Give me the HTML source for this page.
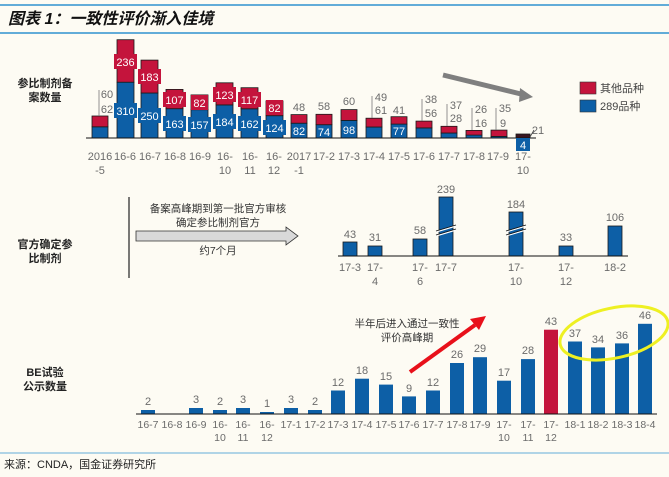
<!DOCTYPE html>
<html><head><meta charset="utf-8"><style>
html,body{margin:0;padding:0;background:#fdfbf3;}
svg{display:block;font-family:"Liberation Sans","Noto Sans CJK SC",sans-serif;}
.g{fill:#6b6b6b;font-size:11px;text-anchor:middle;}
.w{fill:#fff;font-size:11px;text-anchor:middle;}
.b{fill:#0d5fa6;stroke:#1a1a1a;stroke-width:0.8;}
.r{fill:#c4143c;stroke:#1a1a1a;stroke-width:0.8;}
.bb{fill:#0d5fa6;}
.lb{font-size:11px;font-weight:bold;fill:#222;text-anchor:middle;}
.t{font-size:10.5px;fill:#333;text-anchor:middle;}
</style></head><body>
<svg width="669" height="477" viewBox="0 0 669 477">
<rect width="669" height="477" fill="#fdfbf3"/>
<line x1="0" y1="5" x2="669" y2="5" stroke="#62acd8" stroke-width="2"/>
<line x1="0" y1="33" x2="669" y2="33" stroke="#62acd8" stroke-width="2"/>
<text x="8" y="24" style="font-size:16px;font-weight:bold;font-style:italic;fill:#111">图表 1：一致性评价渐入佳境</text>

<!-- top chart -->
<text x="45" y="87" class="lb">参比制剂备</text>
<text x="45" y="101" class="lb">案数量</text>
<g>
<rect class="b" x="92" y="126.8" width="16" height="11.2"/><rect class="r" x="92" y="116" width="16" height="10.8"/>
<rect class="b" x="117" y="82.2" width="17" height="55.8"/><rect class="r" x="117" y="39.7" width="17" height="42.5"/>
<rect class="b" x="141" y="93" width="17" height="45"/><rect class="r" x="141" y="60.1" width="17" height="32.9"/>
<rect class="b" x="166" y="108.7" width="17" height="29.3"/><rect class="r" x="166" y="89.4" width="17" height="19.3"/>
<rect class="b" x="191" y="109.7" width="17" height="28.3"/><rect class="r" x="191" y="94.9" width="17" height="14.8"/>
<rect class="b" x="216" y="104.9" width="17" height="33.1"/><rect class="r" x="216" y="82.8" width="17" height="22.1"/>
<rect class="b" x="241" y="108.8" width="17" height="29.2"/><rect class="r" x="241" y="87.7" width="17" height="21.1"/>
<rect class="b" x="266" y="115.7" width="17" height="22.3"/><rect class="r" x="266" y="100.9" width="17" height="14.8"/>
<rect class="b" x="291" y="123.2" width="16" height="14.8"/><rect class="r" x="291" y="114.6" width="16" height="8.6"/>
<rect class="b" x="316" y="124.7" width="16" height="13.3"/><rect class="r" x="316" y="114.3" width="16" height="10.4"/>
<rect class="b" x="341" y="120.4" width="16" height="17.6"/><rect class="r" x="341" y="109.6" width="16" height="10.8"/>
<rect class="b" x="366" y="127" width="16" height="11"/><rect class="r" x="366" y="118.2" width="16" height="8.8"/>
<rect class="b" x="391" y="124.1" width="16" height="13.9"/><rect class="r" x="391" y="116.7" width="16" height="7.4"/>
<rect class="b" x="416" y="127.9" width="16" height="10.1"/><rect class="r" x="416" y="121.1" width="16" height="6.8"/>
<rect class="b" x="441" y="133" width="16" height="5"/><rect class="r" x="441" y="126.3" width="16" height="6.7"/>
<rect class="b" x="466" y="135.1" width="16" height="2.9"/><rect class="r" x="466" y="130.4" width="16" height="4.7"/>
<rect class="b" x="491" y="136.4" width="16" height="1.6"/><rect class="r" x="491" y="130.1" width="16" height="6.3"/>
<rect class="r" x="516" y="134" width="14" height="4" style="fill:#3a1520"/>
</g>
<line x1="86" y1="138" x2="536" y2="138" stroke="#111" stroke-width="1"/>
<!-- inside labels -->
<g>
<rect class="bb" x="114" y="103" width="23" height="15"/><text class="w" x="125.5" y="115">310</text>
<rect style="fill:#c4143c" x="114" y="54" width="23" height="15"/><text class="w" x="125.5" y="66">236</text>
<rect class="bb" x="138" y="108" width="23" height="15"/><text class="w" x="149.5" y="120">250</text>
<rect style="fill:#c4143c" x="138" y="69" width="23" height="15"/><text class="w" x="149.5" y="81">183</text>
<rect class="bb" x="163" y="116" width="23" height="15"/><text class="w" x="174.5" y="128">163</text>
<rect style="fill:#c4143c" x="163" y="92" width="23" height="15"/><text class="w" x="174.5" y="104">107</text>
<rect class="bb" x="188" y="117" width="23" height="15"/><text class="w" x="199.5" y="129">157</text>
<rect style="fill:#c4143c" x="191" y="95" width="17" height="15"/><text class="w" x="199.5" y="107">82</text>
<rect class="bb" x="213" y="114" width="23" height="15"/><text class="w" x="224.5" y="126">184</text>
<rect style="fill:#c4143c" x="213" y="87" width="23" height="15"/><text class="w" x="224.5" y="99">123</text>
<rect class="bb" x="238" y="116" width="23" height="15"/><text class="w" x="249.5" y="128">162</text>
<rect style="fill:#c4143c" x="238" y="92" width="23" height="15"/><text class="w" x="249.5" y="104">117</text>
<rect class="bb" x="263" y="120" width="23" height="15"/><text class="w" x="274.5" y="132">124</text>
<rect style="fill:#c4143c" x="266" y="100" width="17" height="15"/><text class="w" x="274.5" y="112">82</text>
<text class="w" x="299" y="135">82</text>
<text class="w" x="324" y="136">74</text>
<text class="w" x="349" y="134">98</text>
<text class="w" x="399" y="135">77</text>
<rect class="bb" x="516" y="138" width="14" height="13"/><text class="w" x="523" y="149">4</text>
</g>
<!-- gray labels -->
<g class="g">
<text x="107" y="98">60</text><text x="107" y="113">62</text>
<line x1="99" y1="90" x2="99" y2="116" stroke="#777" stroke-width="0.8"/>
<text x="299" y="111">48</text>
<text x="324" y="110">58</text>
<text x="349" y="105">60</text>
<text x="381" y="101">49</text><text x="381" y="114">61</text>
<line x1="372" y1="96" x2="372" y2="118" stroke="#777" stroke-width="0.8"/>
<text x="399" y="114">41</text>
<text x="431" y="103">38</text><text x="431" y="117">56</text>
<line x1="422" y1="99" x2="422" y2="121" stroke="#777" stroke-width="0.8"/>
<text x="456" y="109">37</text><text x="456" y="122">28</text>
<line x1="447" y1="104" x2="447" y2="126" stroke="#777" stroke-width="0.8"/>
<text x="481" y="113">26</text><text x="481" y="127">16</text>
<line x1="472" y1="108" x2="472" y2="130" stroke="#777" stroke-width="0.8"/>
<text x="505" y="112">35</text><text x="503" y="127">9</text>
<line x1="496" y1="108" x2="496" y2="130" stroke="#777" stroke-width="0.8"/>
<text x="538" y="134">21</text>
<line x1="530" y1="137" x2="534" y2="130" stroke="#444" stroke-width="0.8"/>
</g>
<g class="g">
<text x="100" y="160">2016</text><text x="100" y="174">-5</text>
<text x="125" y="160">16-6</text><text x="150" y="160">16-7</text><text x="175" y="160">16-8</text><text x="200" y="160">16-9</text>
<text x="225" y="160">16-</text><text x="225" y="174">10</text>
<text x="250" y="160">16-</text><text x="250" y="174">11</text>
<text x="274" y="160">16-</text><text x="274" y="174">12</text>
<text x="299" y="160">2017</text><text x="299" y="174">-1</text>
<text x="324" y="160">17-2</text><text x="349" y="160">17-3</text><text x="374" y="160">17-4</text><text x="399" y="160">17-5</text>
<text x="424" y="160">17-6</text><text x="449" y="160">17-7</text><text x="474" y="160">17-8</text><text x="498" y="160">17-9</text>
<text x="523" y="160">17-</text><text x="523" y="174">10</text>
</g>
<line x1="443" y1="75" x2="525" y2="95" stroke="#7f7f7f" stroke-width="5"/>
<polygon points="520,88 533,97 519,102" fill="#7f7f7f"/>
<rect x="580" y="82" width="16" height="12" fill="#c4143c" stroke="#333" stroke-width="0.6"/>
<text x="600" y="92" style="font-size:11px;fill:#444">其他品种</text>
<rect x="580" y="100" width="16" height="12" fill="#0d5fa6" stroke="#333" stroke-width="0.6"/>
<text x="600" y="110" style="font-size:11px;fill:#444">289品种</text>

<!-- middle chart -->
<text x="45" y="248" class="lb">官方确定参</text>
<text x="45" y="262" class="lb">比制剂</text>
<line x1="129" y1="197" x2="129" y2="278" stroke="#222" stroke-width="1.2"/>
<text class="t" x="218" y="212">备案高峰期到第一批官方审核</text>
<text class="t" x="218" y="226">确定参比制剂官方</text>
<polygon points="136,231 286,231 286,227 298,236 286,245 286,241 136,241" fill="#d9d9d9" stroke="#333" stroke-width="0.8"/>
<text class="t" x="218" y="254">约7个月</text>
<g>
<rect class="b" x="343" y="242" width="14" height="14"/>
<rect class="b" x="368" y="246" width="14" height="10"/>
<rect class="b" x="413" y="239" width="14" height="17"/>
<rect class="b" x="439" y="197" width="14" height="59"/>
<rect class="b" x="509" y="212" width="14" height="44"/>
<rect class="b" x="559" y="246" width="14" height="10"/>
<rect class="b" x="608" y="226" width="14" height="30"/>
</g>
<g stroke="#fff" stroke-width="1.2">
<line x1="436" y1="232" x2="456" y2="226"/><line x1="436" y1="236" x2="456" y2="230"/>
<line x1="506" y1="232" x2="526" y2="226"/><line x1="506" y1="236" x2="526" y2="230"/>
</g>
<g stroke="#111" stroke-width="0.8">
<line x1="436" y1="231" x2="456" y2="225"/><line x1="436" y1="235" x2="456" y2="229"/>
<line x1="506" y1="231" x2="526" y2="225"/><line x1="506" y1="235" x2="526" y2="229"/>
</g>
<line x1="338" y1="256" x2="628" y2="256" stroke="#111" stroke-width="1"/>
<g class="g">
<text x="350" y="238">43</text><text x="375" y="241">31</text><text x="420" y="234">58</text>
<text x="446" y="193">239</text><text x="516" y="208">184</text><text x="566" y="241">33</text><text x="615" y="221">106</text>
<text x="350" y="271">17-3</text><text x="375" y="271">17-</text><text x="375" y="285">4</text>
<text x="420" y="271">17-</text><text x="420" y="285">6</text><text x="446" y="271">17-7</text>
<text x="516" y="271">17-</text><text x="516" y="285">10</text>
<text x="566" y="271">17-</text><text x="566" y="285">12</text>
<text x="615" y="271">18-2</text>
</g>

<!-- bottom chart -->
<text x="45" y="376" class="lb">BE试验</text>
<text x="45" y="390" class="lb">公示数量</text>
<g class="bb">
<rect x="141" y="410" width="14" height="4"/>
<rect x="189" y="408" width="14" height="6"/>
<rect x="213" y="410" width="14" height="4"/>
<rect x="236" y="408" width="14" height="6"/>
<rect x="260" y="412" width="14" height="2"/>
<rect x="284" y="408" width="14" height="6"/>
<rect x="308" y="410" width="14" height="4"/>
<rect x="331" y="390.5" width="14" height="23.5"/>
<rect x="355" y="378.7" width="14" height="35.3"/>
<rect x="379" y="384.6" width="14" height="29.4"/>
<rect x="402" y="396.4" width="14" height="17.6"/>
<rect x="426" y="390.5" width="14" height="23.5"/>
<rect x="450" y="363" width="14" height="51"/>
<rect x="473" y="357.2" width="14" height="56.8"/>
<rect x="497" y="380.7" width="14" height="33.3"/>
<rect x="521" y="359.1" width="14" height="54.9"/>
<rect x="544" y="329.7" width="14" height="84.3" style="fill:#c4143c"/>
<rect x="568" y="341.5" width="14" height="72.5"/>
<rect x="591" y="347.4" width="14" height="66.6"/>
<rect x="615" y="343.4" width="14" height="70.6"/>
<rect x="638" y="323.8" width="14" height="90.2"/>
</g>
<line x1="136" y1="414" x2="657" y2="414" stroke="#111" stroke-width="1"/>
<g class="g">
<text x="148" y="405">2</text><text x="196" y="403">3</text><text x="220" y="405">2</text><text x="243" y="403">3</text>
<text x="267" y="407">1</text><text x="291" y="403">3</text><text x="315" y="405">2</text><text x="338" y="386">12</text>
<text x="362" y="374">18</text><text x="386" y="380">15</text><text x="409" y="392">9</text><text x="433" y="386">12</text>
<text x="457" y="358">26</text><text x="480" y="352">29</text><text x="504" y="376">17</text><text x="528" y="354">28</text>
<text x="551" y="325">43</text><text x="575" y="337">37</text><text x="598" y="343">34</text><text x="622" y="339">36</text>
<text x="645" y="319">46</text>
</g>
<g class="g" style="font-size:10.5px">
<text x="148" y="428">16-7</text><text x="172" y="428">16-8</text><text x="196" y="428">16-9</text>
<text x="220" y="428">16-</text><text x="220" y="441">10</text>
<text x="243" y="428">16-</text><text x="243" y="441">11</text>
<text x="267" y="428">16-</text><text x="267" y="441">12</text>
<text x="291" y="428">17-1</text><text x="315" y="428">17-2</text><text x="338" y="428">17-3</text><text x="362" y="428">17-4</text>
<text x="386" y="428">17-5</text><text x="409" y="428">17-6</text><text x="433" y="428">17-7</text><text x="457" y="428">17-8</text>
<text x="480" y="428">17-9</text>
<text x="504" y="428">17-</text><text x="504" y="441">10</text>
<text x="528" y="428">17-</text><text x="528" y="441">11</text>
<text x="551" y="428">17-</text><text x="551" y="441">12</text>
<text x="575" y="428">18-1</text><text x="598" y="428">18-2</text><text x="622" y="428">18-3</text><text x="645" y="428">18-4</text>
</g>
<text class="t" x="407" y="327">半年后进入通过一致性</text>
<text class="t" x="407" y="341">评价高峰期</text>
<line x1="410" y1="372" x2="475" y2="325" stroke="#e8101a" stroke-width="4"/>
<polygon points="470,319 486,316 479,330" fill="#e8101a"/>
<ellipse cx="614" cy="333" rx="55" ry="25" transform="rotate(-12 614 333)" fill="none" stroke="#eef022" stroke-width="3"/>
<line x1="0" y1="453" x2="669" y2="453" stroke="#62acd8" stroke-width="1"/>
<text x="4" y="468" style="font-size:11px;fill:#222">来源：CNDA，国金证券研究所</text>
</svg>
</body></html>
